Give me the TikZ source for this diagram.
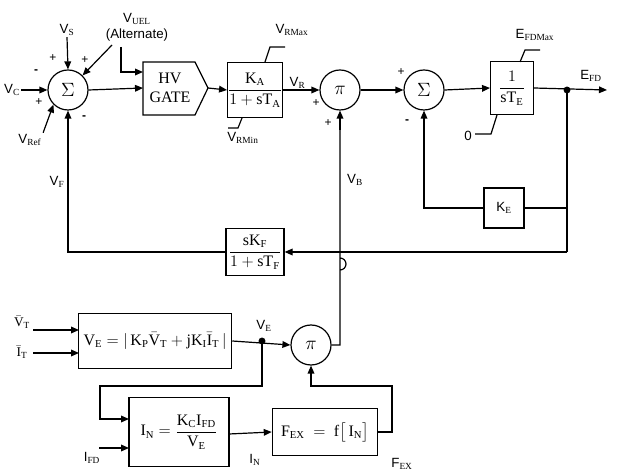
\documentclass[tikz,border=0pt]{standalone}
\usepackage{amsmath}
\usepackage{fontspec}
\setmainfont{Liberation Sans}
\setmathrm{Liberation Serif}
\newfontfamily\srf{Liberation Serif}
\usetikzlibrary{arrows.meta}
\begin{document}
\begin{tikzpicture}[x=0.75pt,y=-0.75pt,
  ln/.style={line width=0.9pt},
  ar/.style={ln,-{Triangle[length=6pt,width=5pt]}},
  blk/.style={draw,line width=0.9pt,minimum width=0,inner sep=0pt,font=\srf\large},
  cir/.style={draw,circle,line width=0.9pt,minimum size=30pt,inner sep=0pt,font=\srf\Large},
  lb/.style={font=\normalsize,inner sep=1pt},
  sg/.style={font=\small,inner sep=0pt}]
\useasboundingbox (0,0) rectangle (617,473);
% circles
\node[cir] (s1) at (68,90) {$\Sigma$};
\node[cir] (p1) at (340,90) {$\pi$};
\node[cir] (s2) at (424,90) {$\Sigma$};
\node[cir] (p3) at (311,345) {$\pi$};
% HV gate
\draw[ln] (143,62) -- (195,62) -- (208,88) -- (195,115) -- (143,115) -- cycle;
\node[font=\srf\large,align=center] (hv) at (170,88) {HV\\GATE};
\coordinate (hvin) at (143,88); \coordinate (hvin2) at (143,72); \coordinate (hvout) at (208,88);
\node[blk,minimum width=37.5pt,minimum height=41pt] (ka) at (255,90) {$\dfrac{\mathrm{K_A}}{1+\mathrm{sT_A}}$};
\node[blk,minimum width=32pt,minimum height=40pt] (te) at (512,88) {$\dfrac{1}{\mathrm{sT_E}}$};
\node[blk,minimum width=30pt,minimum height=30pt,font=\normalfont] (ke) at (504,208) {K$_\mathrm{E}$};
\node[blk,minimum width=43.5pt,minimum height=35pt] (kf) at (255,252) {$\dfrac{\mathrm{sK_F}}{1+\mathrm{sT_F}}$};
\node[blk,minimum width=115pt,minimum height=41pt] (ve) at (155,341) {$\mathrm{V_E} = \left|\,\mathrm{K_P}\bar{\mathrm{V}}_\mathrm{T}+\mathrm{jK_I}\bar{\mathrm{I}}_\mathrm{T}\,\right|$};
\node[blk,minimum width=75pt,minimum height=52pt] (in) at (179,432) {$\mathrm{I_N}=\dfrac{\mathrm{K_CI_{FD}}}{\mathrm{V_E}}$};
\node[blk,minimum width=79pt,minimum height=35pt] (fex) at (325,432) {$\mathrm{F_{EX}}\ =\ \mathrm{f}\big[\,\mathrm{I_N}\big]$};
% forward path
\node[lb] (lvc) at (12,90) {V$_\mathrm{C}$};
\draw[ar] (lvc.east) -- (s1.west);
\node[lb] (lvs) at (67,30) {V$_\mathrm{S}$};
\draw[ar] (lvs.south) -- (s1.north);
\node[lb] (lref) at (30,140) {V$_\mathrm{Ref}$};
\draw[ar] (lref.north east) -- (s1.south west);
\node[lb,align=center] (luel) at (137,27) {V$_\mathrm{UEL}$\\(Alternate)};
\draw[ar] (112,45) -- (s1.north east);
\draw[ar] (121,47) |- (hvin2);
\draw[ar] (s1.east) -- (hvin);
\draw[ar] (hvout) -- (ka.west);
\draw[ar] (ka.east) -- (p1.west) node[lb,pos=0.4,above] {V$_\mathrm{R}$};
\draw[ar] (p1.east) -- (s2.west);
\draw[ar] (s2.east) -- (te.west);
\coordinate (dot) at (567,90);
\coordinate (efd) at (607,90);
\draw[ar] (te.east) -- (efd);
\fill (dot) circle (2.6pt);
\node[lb] at (591,76) {E$_\mathrm{FD}$};
% KE loop
\draw[ln] (dot) -- (567,252);
\draw[ln] (567,208) -- (ke.east);
\draw[ar] (ke.west) -| (s2.south);
% KF loop
\draw[ar] (567,252) -- (kf.east);
\draw[ar] (kf.west) -| (s1.south);
\node[lb] at (57,182) {V$_\mathrm{F}$};
% VB with jump
\draw[ln] (p3.east) -| (340,258) arc[start angle=-90,end angle=90,radius=6] -- (340,130);
\draw[ar] (340,130) -- (p1.south);
\node[lb] at (355,180) {V$_\mathrm{B}$};
% bottom
\node[lb] (lvt) at (22,322) {$\bar{\mathrm{V}}_\mathrm{T}$};
\node[lb] (lit) at (22,352) {$\bar{\mathrm{I}}_\mathrm{T}$};
\draw[ar] (33,330) -- (79,330);
\draw[ar] (33,353) -- (79,353);
\coordinate (vedot) at (262,341);
\draw[ar] (ve.east) -- (p3.west);
\fill (vedot) circle (2.6pt);
\node[lb] at (264,326) {V$_\mathrm{E}$};
\draw[ar] (vedot) -- (262,386) -- (100,386) |- (129,419);
\node[lb] (lifd) at (92,458) {I$_\mathrm{FD}$};
\draw[ar] (99,448) -- (129,448);
\draw[ar] (229,434) -- (fex.west);
\node[lb] at (255,460) {I$_\mathrm{N}$};
\draw[ar] (fex.east) -- (392,432) -- (392,386) -| (p3.south);
\node[lb] at (402,464) {F$_\mathrm{EX}$};
% limits
\draw[ln] (265,62) -- (270,47) -- (285,47);
\node[lb] at (292,30) {V$_\mathrm{RMax}$};
\draw[ln] (242,118) -- (238,128) -- (228,128);
\node[lb] at (243,138) {V$_\mathrm{RMin}$};
\draw[ln] (520,62) -- (525,50) -- (540,50);
\node[lb] at (535,35) {E$_\mathrm{FDMax}$};
\draw[ln] (497,115) -- (491,134) -- (475,134);
\node[lb] at (468,136) {0};
% signs
\node[sg] at (36,72) {\textbf{-}};
\node[sg] at (39,102) {+};
\node[sg] at (53,58) {+};
\node[sg] at (85,60) {+};
\node[sg] at (84,118) {\textbf{-}};
\node[sg] at (316,103) {+};
\node[sg] at (328,123) {+};
\node[sg] at (401,72) {+};
\node[sg] at (407,122) {\textbf{-}};
\end{tikzpicture}
\end{document}
